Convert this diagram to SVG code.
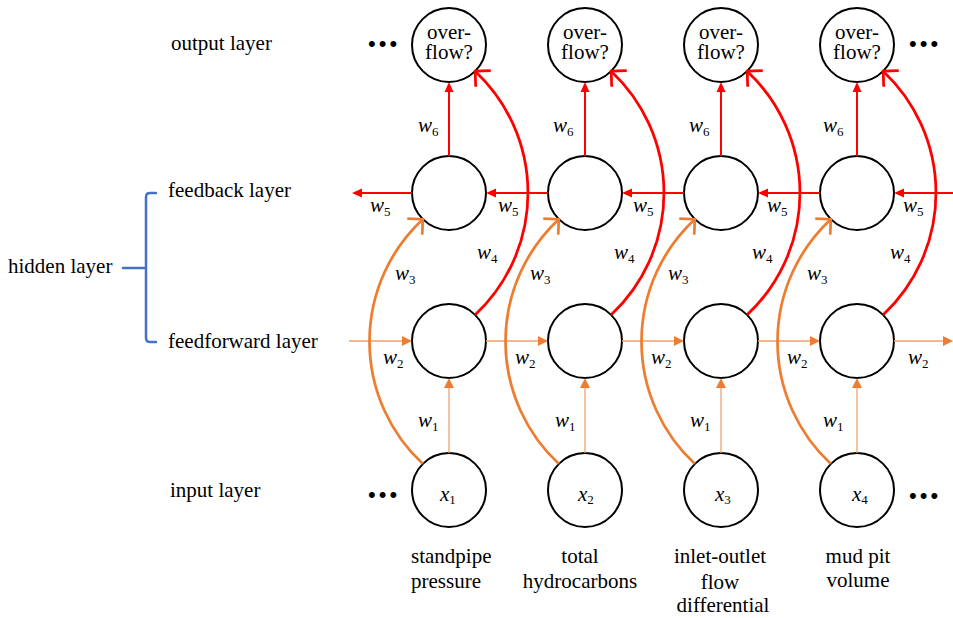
<svg xmlns="http://www.w3.org/2000/svg" width="953" height="618" viewBox="0 0 953 618">
  <style>
    text { font-family: "Liberation Serif", "Times New Roman", serif; fill: #000; }
    .lbl { font-size: 21px; }
    .mid { text-anchor: middle; }
    .w { font-size: 21px; font-style: italic; }
    .sub { font-size: 13px; font-style: normal; }
    .dots { font-family: "Liberation Sans", Arial, sans-serif; font-size: 22px; letter-spacing: 3px; }
    .node { fill: #fff; stroke: #000; stroke-width: 2; }
    .red { stroke: #FF0000; stroke-width: 2; fill: none; }
    .redarc { stroke: #FF0000; stroke-width: 2.75; fill: none; }
    .org { stroke: #F0A06A; stroke-width: 1.3; fill: none; }
    .orgarc { stroke: #ED7D31; stroke-width: 2.75; fill: none; }
    .brace { stroke: #4472C4; stroke-width: 2.5; fill: none; stroke-linecap: round; stroke-linejoin: round; }
  </style>
  <defs>
    <marker id="head-red" markerUnits="userSpaceOnUse" markerWidth="10" markerHeight="10" viewBox="0 0 10 10" refX="2" refY="5" orient="auto">
      <path d="M0,0.5 L10,5 L0,9.5 Z" fill="#FF0000"/>
    </marker>
    <marker id="head-org" markerUnits="userSpaceOnUse" markerWidth="10" markerHeight="10" viewBox="0 0 10 10" refX="2" refY="5" orient="auto">
      <path d="M0,0 L10,5 L0,10 Z" fill="#ED7D31"/>
    </marker>
    <marker id="open-red" markerUnits="userSpaceOnUse" markerWidth="20" markerHeight="30" viewBox="0 0 20 30" refX="16" refY="15" orient="auto" style="overflow:visible">
      <path d="M5,4 L16,15 L5,26" fill="none" stroke="#FF0000" stroke-width="2.75"/>
    </marker>
    <marker id="open-org" markerUnits="userSpaceOnUse" markerWidth="20" markerHeight="30" viewBox="0 0 20 30" refX="16" refY="15" orient="auto" style="overflow:visible">
      <path d="M5,4 L16,15 L5,26" fill="none" stroke="#ED7D31" stroke-width="2.75"/>
    </marker>
  </defs>

  <!-- layer captions -->
  <g id="captions">
    <text class="lbl" x="171" y="50">output layer</text>
    <text class="lbl" x="168" y="197">feedback layer</text>
    <text class="lbl" x="8" y="273">hidden layer</text>
    <text class="lbl" x="168" y="348">feedforward layer</text>
    <text class="lbl" x="170" y="497">input layer</text>
    <path class="brace" d="M156,193 H150 Q146,193 146,197 V338 Q146,342 150,342 H156 M123,268 H146"/>
  </g>

  <!-- continuation dots -->
  <g id="ellipses">
    <text class="dots" x="368" y="51">•••</text>
    <text class="dots" x="909" y="51">•••</text>
    <text class="dots" x="368" y="502">•••</text>
    <text class="dots" x="909" y="503">•••</text>
  </g>

  <!-- output nodes -->
  <g id="out1"><circle class="node" cx="449" cy="45" r="37"/><text class="lbl mid" x="449" y="38.5">over-</text><text class="lbl mid" x="449" y="59">flow?</text></g>
  <g id="out2"><circle class="node" cx="585" cy="45" r="37"/><text class="lbl mid" x="585" y="38.5">over-</text><text class="lbl mid" x="585" y="59">flow?</text></g>
  <g id="out3"><circle class="node" cx="721" cy="45" r="37"/><text class="lbl mid" x="721" y="38.5">over-</text><text class="lbl mid" x="721" y="59">flow?</text></g>
  <g id="out4"><circle class="node" cx="857" cy="45" r="37"/><text class="lbl mid" x="857" y="38.5">over-</text><text class="lbl mid" x="857" y="59">flow?</text></g>

  <!-- feedback nodes -->
  <g id="fb1"><circle class="node" cx="449" cy="193" r="37"/></g>
  <g id="fb2"><circle class="node" cx="585" cy="193" r="37"/></g>
  <g id="fb3"><circle class="node" cx="721" cy="193" r="37"/></g>
  <g id="fb4"><circle class="node" cx="857" cy="193" r="37"/></g>

  <!-- feedforward nodes -->
  <g id="ff1"><circle class="node" cx="449" cy="341" r="37"/></g>
  <g id="ff2"><circle class="node" cx="585" cy="341" r="37"/></g>
  <g id="ff3"><circle class="node" cx="721" cy="341" r="37"/></g>
  <g id="ff4"><circle class="node" cx="857" cy="341" r="37"/></g>

  <!-- input nodes -->
  <g id="in1"><circle class="node" cx="449" cy="490" r="37"/><text class="w" x="440" y="501">x<tspan class="sub" dy="3">1</tspan></text></g>
  <g id="in2"><circle class="node" cx="585" cy="490" r="37"/><text class="w" x="578" y="501">x<tspan class="sub" dy="3">2</tspan></text></g>
  <g id="in3"><circle class="node" cx="721" cy="490" r="37"/><text class="w" x="715" y="501">x<tspan class="sub" dy="3">3</tspan></text></g>
  <g id="in4"><circle class="node" cx="857" cy="490" r="37"/><text class="w" x="852" y="501">x<tspan class="sub" dy="3">4</tspan></text></g>

  <!-- input variable names -->
  <g id="inputs">
    <text class="lbl" x="411" y="563">standpipe</text>
    <text class="lbl" x="411" y="588">pressure</text>
    <text class="lbl mid" x="580" y="563">total</text>
    <text class="lbl mid" x="580" y="588">hydrocarbons</text>
    <text class="lbl mid" x="720" y="563">inlet-outlet</text>
    <text class="lbl mid" x="720" y="589">flow</text>
    <text class="lbl mid" x="723" y="612">differential</text>
    <text class="lbl mid" x="858" y="563">mud pit</text>
    <text class="lbl mid" x="858" y="587">volume</text>
  </g>

  <!-- connectors -->
  <g id="connectors">
    <!-- w1: input to feedforward -->
    <line class="org" x1="449" y1="453" x2="449" y2="386" marker-end="url(#head-org)"/>
    <line class="org" x1="585" y1="453" x2="585" y2="386" marker-end="url(#head-org)"/>
    <line class="org" x1="721" y1="453" x2="721" y2="386" marker-end="url(#head-org)"/>
    <line class="org" x1="857" y1="453" x2="857" y2="386" marker-end="url(#head-org)"/>
    <!-- w2: feedforward chain -->
    <line class="org" x1="349" y1="341" x2="404" y2="341" marker-end="url(#head-org)"/>
    <line class="org" x1="486" y1="341" x2="540" y2="341" marker-end="url(#head-org)"/>
    <line class="org" x1="622" y1="341" x2="676" y2="341" marker-end="url(#head-org)"/>
    <line class="org" x1="758" y1="341" x2="812" y2="341" marker-end="url(#head-org)"/>
    <line class="org" x1="894" y1="341" x2="945" y2="341" marker-end="url(#head-org)"/>
    <!-- w3: input to feedback -->
    <path class="orgarc" d="M422.8,463.8 A167,167 0 0 1 422.8,219.2" marker-end="url(#open-org)"/>
    <path class="orgarc" d="M558.8,463.8 A167,167 0 0 1 558.8,219.2" marker-end="url(#open-org)"/>
    <path class="orgarc" d="M694.8,463.8 A167,167 0 0 1 694.8,219.2" marker-end="url(#open-org)"/>
    <path class="orgarc" d="M830.8,463.8 A167,167 0 0 1 830.8,219.2" marker-end="url(#open-org)"/>
    <!-- w4: feedforward to output -->
    <path class="redarc" d="M475.2,314.8 A167,167 0 0 0 475.2,71.2" marker-end="url(#open-red)"/>
    <path class="redarc" d="M611.2,314.8 A167,167 0 0 0 611.2,71.2" marker-end="url(#open-red)"/>
    <path class="redarc" d="M747.2,314.8 A167,167 0 0 0 747.2,71.2" marker-end="url(#open-red)"/>
    <path class="redarc" d="M883.2,314.8 A167,167 0 0 0 883.2,71.2" marker-end="url(#open-red)"/>
    <!-- w5: feedback chain (right to left) -->
    <line class="red" x1="412" y1="193" x2="360" y2="193" marker-end="url(#head-red)"/>
    <line class="red" x1="548" y1="193" x2="494" y2="193" marker-end="url(#head-red)"/>
    <line class="red" x1="684" y1="193" x2="630" y2="193" marker-end="url(#head-red)"/>
    <line class="red" x1="820" y1="193" x2="766" y2="193" marker-end="url(#head-red)"/>
    <line class="red" x1="953" y1="193" x2="902" y2="193" marker-end="url(#head-red)"/>
    <!-- w6: feedback to output -->
    <line class="red" x1="449" y1="156" x2="449" y2="90" marker-end="url(#head-red)"/>
    <line class="red" x1="585" y1="156" x2="585" y2="90" marker-end="url(#head-red)"/>
    <line class="red" x1="721" y1="156" x2="721" y2="90" marker-end="url(#head-red)"/>
    <line class="red" x1="857" y1="156" x2="857" y2="90" marker-end="url(#head-red)"/>

    <!-- weight labels -->
    <g id="weights">
      <text class="w" x="418" y="132">w<tspan class="sub" dy="4">6</tspan></text>
      <text class="w" x="553" y="132">w<tspan class="sub" dy="4">6</tspan></text>
      <text class="w" x="689" y="132">w<tspan class="sub" dy="4">6</tspan></text>
      <text class="w" x="823" y="132">w<tspan class="sub" dy="4">6</tspan></text>

      <text class="w" x="370" y="212">w<tspan class="sub" dy="4">5</tspan></text>
      <text class="w" x="498" y="212">w<tspan class="sub" dy="4">5</tspan></text>
      <text class="w" x="633" y="212">w<tspan class="sub" dy="4">5</tspan></text>
      <text class="w" x="767" y="212">w<tspan class="sub" dy="4">5</tspan></text>
      <text class="w" x="903" y="212">w<tspan class="sub" dy="4">5</tspan></text>

      <text class="w" x="477" y="259">w<tspan class="sub" dy="4">4</tspan></text>
      <text class="w" x="614" y="259">w<tspan class="sub" dy="4">4</tspan></text>
      <text class="w" x="752" y="259">w<tspan class="sub" dy="4">4</tspan></text>
      <text class="w" x="890" y="259">w<tspan class="sub" dy="4">4</tspan></text>

      <text class="w" x="395" y="280">w<tspan class="sub" dy="4">3</tspan></text>
      <text class="w" x="530" y="280">w<tspan class="sub" dy="4">3</tspan></text>
      <text class="w" x="668" y="280">w<tspan class="sub" dy="4">3</tspan></text>
      <text class="w" x="807" y="280">w<tspan class="sub" dy="4">3</tspan></text>

      <text class="w" x="383" y="364">w<tspan class="sub" dy="4">2</tspan></text>
      <text class="w" x="515" y="364">w<tspan class="sub" dy="4">2</tspan></text>
      <text class="w" x="651" y="364">w<tspan class="sub" dy="4">2</tspan></text>
      <text class="w" x="787" y="364">w<tspan class="sub" dy="4">2</tspan></text>
      <text class="w" x="908" y="364">w<tspan class="sub" dy="4">2</tspan></text>

      <text class="w" x="418" y="427">w<tspan class="sub" dy="4">1</tspan></text>
      <text class="w" x="555" y="427">w<tspan class="sub" dy="4">1</tspan></text>
      <text class="w" x="690" y="427">w<tspan class="sub" dy="4">1</tspan></text>
      <text class="w" x="823" y="427">w<tspan class="sub" dy="4">1</tspan></text>
    </g>
  </g>
</svg>
